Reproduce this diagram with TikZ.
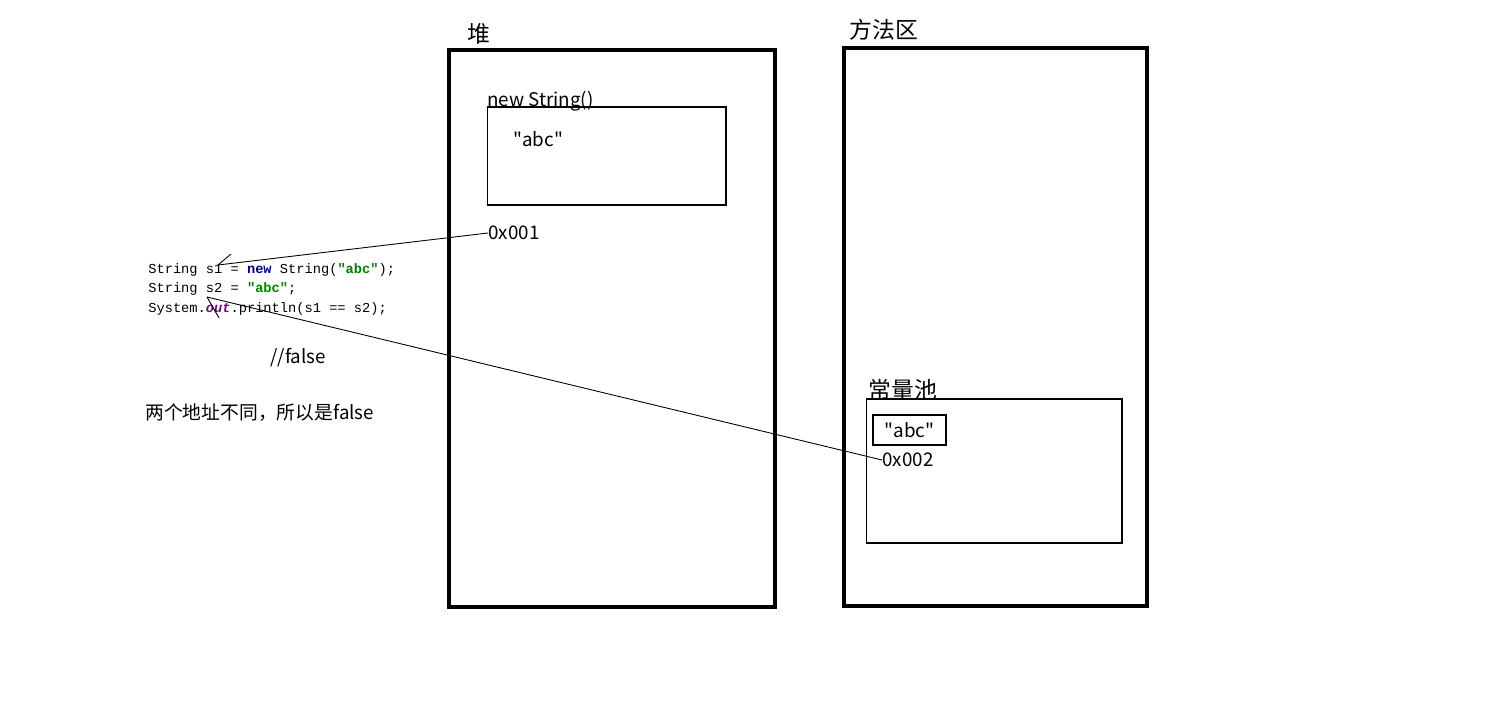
\documentclass[tikz,border=0pt]{standalone}
\usepackage{fontspec}
\newfontfamily\cnfont{Noto Sans CJK SC}
\newfontfamily\codefont{Liberation Mono}
\usetikzlibrary{positioning}
\definecolor{javanavy}{HTML}{000080}
\definecolor{javagreen}{HTML}{008000}
\definecolor{javapurple}{HTML}{660E7A}
\newcommand{\kw}[1]{\textcolor{javanavy}{\bfseries #1}}
\newcommand{\strlit}[1]{\textcolor{javagreen}{\bfseries #1}}
\newcommand{\fld}[1]{\textcolor{javapurple}{\bfseries\itshape #1}}

\begin{document}
\begin{tikzpicture}[
    x=0.02cm, y=-0.02cm,
    font=\cnfont\fontsize{10.7}{12}\selectfont,
    area/.style={draw, line width=2.3pt, inner sep=0pt},
    objbox/.style={draw, line width=0.6pt, inner sep=0pt},
    title/.style={font=\cnfont\fontsize{13}{15}\selectfont, inner sep=0pt},
    label/.style={anchor=west, inner sep=0pt},
    code/.style={anchor=west, inner sep=0pt, font=\codefont\fontsize{7.8}{9}\selectfont},
    link/.style={line width=0.5pt}
  ]
    \useasboundingbox (0,0) rectangle (1498,724);

    % heap
    \node[area, minimum width=6.52cm, minimum height=11.14cm] (heap) at (612,328.5) {};
    \node[title] (heaptitle) at (479,34) {堆};
    \node[objbox, minimum width=4.78cm, minimum height=1.96cm] (newobj) at (606.5,156) {};
    \node[label] (newlabel) at (487,101) {new String()};
    \node[label] (heapabc) at (513,139) {"abc"};
    \node[label] (addr1) at (488,233) {0x001};

    % method area
    \node[area, minimum width=6.06cm, minimum height=11.16cm] (method) at (995.5,327) {};
    \node[title] (methodtitle) at (884,30) {方法区};
    \node[objbox, minimum width=1.46cm, minimum height=0.6cm] (poolabc) at (909.5,430) {"abc"};
    \node[objbox, minimum width=5.12cm, minimum height=2.88cm] (pool) at (994,471) {};
    \node[title, anchor=west] (pooltitle) at (868,390) {常量池};
    \node[label] (addr2) at (882,460) {0x002};

    % code
    \node[code] (line1) at (148,270) {String s1 = \kw{new} String(\strlit{"abc"});};
    \node[code] (line2) at (148,289) {String s2 = \strlit{"abc"};};
    \node[code] (line3) at (148,309) {System.\fld{out}.println(s1 == s2);};
    \node[label] (result) at (270,358) {//false};
    \node[label] (reason) at (145,413) {两个地址不同，所以是false};

    \coordinate (s1) at (218,265);
    \coordinate (s1tick) at (231,254);
    \coordinate (s2) at (207,297);
    \coordinate (s2tick) at (219,318);

    \draw[link] (addr1.west) -- (s1);
    \draw[link] (s1) -- (s1tick);
    \draw[link] (s2) -- (addr2.west);
    \draw[link] (s2) -- (s2tick);
\end{tikzpicture}
\end{document}
